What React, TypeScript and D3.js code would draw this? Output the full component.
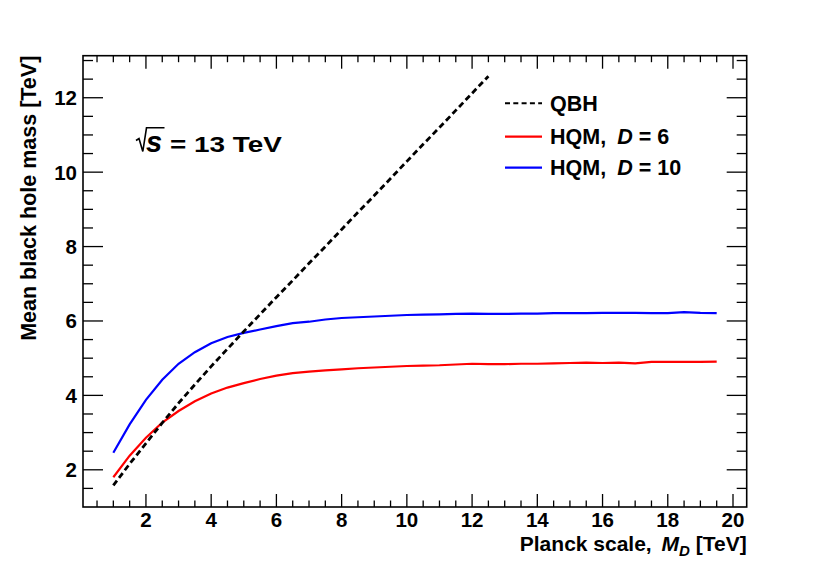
import * as d3 from "d3";

// Planck scale M_D [TeV] sampling points
const MD = [
  1, 1.5, 2, 2.5, 3, 3.5, 4, 4.5, 5, 5.5, 6, 6.5, 7, 7.5, 8, 8.5, 9, 9.5, 10,
  10.5, 11, 11.5, 12, 12.5, 13, 13.5, 14, 14.5, 15, 15.5, 16, 16.5, 17, 17.5,
  18, 18.5, 19, 19.5,
];

// QBH only goes up to 12.5 TeV
const QBH = [
  1.58, 2.16, 2.71, 3.26, 3.79, 4.29, 4.78, 5.25, 5.72, 6.18, 6.64, 7.09, 7.55,
  8.0, 8.46, 8.92, 9.37, 9.83, 10.29, 10.75, 11.2, 11.66, 12.12, 12.58,
];

const HQM_D6 = [
  1.8, 2.38, 2.86, 3.27, 3.58, 3.84, 4.05, 4.21, 4.33, 4.44, 4.53, 4.6, 4.64,
  4.67, 4.7, 4.73, 4.75, 4.77, 4.79, 4.8, 4.81, 4.83, 4.85, 4.84, 4.84, 4.85,
  4.85, 4.86, 4.87, 4.88, 4.87, 4.88, 4.86, 4.9, 4.9, 4.9, 4.9, 4.91,
];

const HQM_D10 = [
  2.46, 3.22, 3.88, 4.42, 4.85, 5.16, 5.4, 5.57, 5.68, 5.77, 5.86, 5.94, 5.98,
  6.04, 6.08, 6.1, 6.12, 6.14, 6.16, 6.17, 6.18, 6.19, 6.2, 6.19, 6.19, 6.2,
  6.2, 6.21, 6.21, 6.21, 6.22, 6.22, 6.22, 6.21, 6.21, 6.24, 6.22, 6.21,
];

const X_TICKS = [2, 4, 6, 8, 10, 12, 14, 16, 18, 20];
const Y_TICKS = [2, 4, 6, 8, 10, 12];

const FONT = "'Liberation Sans', Arial, Helvetica, sans-serif";
const W = 830;
const H = 564;
const margin = { top: 55.7, right: 83.3, bottom: 57, left: 83 };

export default function App() {
  const x = d3
    .scaleLinear()
    .domain([0.07, 20.42])
    .range([margin.left, W - margin.right]);
  const y = d3
    .scaleLinear()
    .domain([1, 13.13])
    .range([H - margin.bottom, margin.top]);

  const [x0, x1] = x.range();
  const [y0, y1] = y.range();

  const line = d3
    .line<[number, number]>()
    .x((d) => x(d[0]))
    .y((d) => y(d[1]));

  const qbhPts = QBH.map((v, i) => [MD[i], v] as [number, number]);
  const d6Pts = HQM_D6.map((v, i) => [MD[i], v] as [number, number]);
  const d10Pts = HQM_D10.map((v, i) => [MD[i], v] as [number, number]);

  // minor ticks every 0.5
  const xMinor = d3.range(0.5, 20.5, 0.5).filter((v) => v % 2 !== 0);
  const yMinor = d3.range(1.5, 13.1, 0.5).filter((v) => v % 2 !== 0);

  const legend = [
    { label: "QBH", color: "#000", dash: "5,3.3", w: 2, italic: "", rest: "" },
    { label: "HQM,", color: "#ff0000", dash: "", w: 2.2, italic: "D", rest: " = 6" },
    { label: "HQM,", color: "#0000ff", dash: "", w: 2.2, italic: "D", rest: " = 10" },
  ];
  const legendY = [103.3, 136.7, 167.7];

  return (
    <svg
      width={W}
      height={H}
      style={{ position: "absolute", left: 0, top: 0, background: "#fff" }}
      fontFamily={FONT}
      fontWeight="bold"
    >
      <rect x={0} y={0} width={W} height={H} fill="#fff" />

      {/* curves */}
      <path d={line(d6Pts) ?? ""} fill="none" stroke="#ff0000" strokeWidth={2.2} />
      <path d={line(d10Pts) ?? ""} fill="none" stroke="#0000ff" strokeWidth={2.2} />
      <path
        d={line(qbhPts) ?? ""}
        fill="none"
        stroke="#000"
        strokeWidth={2.8}
        strokeDasharray="6,3.5"
      />

      {/* frame */}
      <rect
        x={x0}
        y={y1}
        width={x1 - x0}
        height={y0 - y1}
        fill="none"
        stroke="#000"
        strokeWidth={1.6}
      />

      {/* x ticks, bottom and top */}
      {X_TICKS.map((t) => (
        <g key={"xt" + t}>
          <line x1={x(t)} x2={x(t)} y1={y0} y2={y0 - 13} stroke="#000" strokeWidth={1.3} />
          <line x1={x(t)} x2={x(t)} y1={y1} y2={y1 + 13} stroke="#000" strokeWidth={1.3} />
          <text x={x(t)} y={527} textAnchor="middle" fontSize={20.5}>
            {t}
          </text>
        </g>
      ))}
      {xMinor.map((t) => (
        <g key={"xm" + t}>
          <line x1={x(t)} x2={x(t)} y1={y0} y2={y0 - 6.5} stroke="#000" strokeWidth={1.3} />
          <line x1={x(t)} x2={x(t)} y1={y1} y2={y1 + 6.5} stroke="#000" strokeWidth={1.3} />
        </g>
      ))}

      {/* y ticks, left and right */}
      {Y_TICKS.map((t) => (
        <g key={"yt" + t}>
          <line x1={x0} x2={x0 + 20} y1={y(t)} y2={y(t)} stroke="#000" strokeWidth={1.3} />
          <line x1={x1} x2={x1 - 20} y1={y(t)} y2={y(t)} stroke="#000" strokeWidth={1.3} />
          <text x={77} y={y(t) + 7.5} textAnchor="end" fontSize={20.5}>
            {t}
          </text>
        </g>
      ))}
      {yMinor.map((t) => (
        <g key={"ym" + t}>
          <line x1={x0} x2={x0 + 10} y1={y(t)} y2={y(t)} stroke="#000" strokeWidth={1.3} />
          <line x1={x1} x2={x1 - 10} y1={y(t)} y2={y(t)} stroke="#000" strokeWidth={1.3} />
        </g>
      ))}

      {/* axis titles */}
      <text x={x1} y={550.5} textAnchor="end" fontSize={21}>
        Planck scale,{" "}
        <tspan dx={4} fontStyle="italic">M</tspan>
        <tspan fontStyle="italic" fontSize={15} dy={5}>D</tspan>
        <tspan dy={-5}> [TeV]</tspan>
      </text>
      <text
        transform={`translate(36,${y1}) rotate(-90)`}
        textAnchor="end"
        fontSize={21.5}
      >
        Mean black hole mass [TeV]
      </text>

      {/* sqrt(s) label: radical sign drawn as a path */}
      <path
        d="M136,140.5 L139,138.5 L142.8,151.5 L146.5,127.8 L164.5,127.8"
        fill="none"
        stroke="#000"
        strokeWidth={1.6}
        strokeLinejoin="miter"
      />
      <text x={146} y={151.5} fontSize={29} fontStyle="italic">
        s
      </text>
      <text
        x={170}
        y={151.5}
        fontSize={21.5}
        textLength={112}
        lengthAdjust="spacingAndGlyphs"
      >
        = 13 TeV
      </text>

      {/* legend */}
      {legend.map((l, i) => (
        <g key={"lg" + i}>
          <line
            x1={505}
            x2={542}
            y1={legendY[i]}
            y2={legendY[i]}
            stroke={l.color}
            strokeWidth={l.w}
            strokeDasharray={l.dash || undefined}
          />
          <text x={550} y={legendY[i] + 7.2} fontSize={21.5}>
            {l.label}
            {l.italic && (
              <tspan dx={11} fontStyle="italic">
                {l.italic}
              </tspan>
            )}
            {l.rest && <tspan>{l.rest}</tspan>}
          </text>
        </g>
      ))}
    </svg>
  );
}
